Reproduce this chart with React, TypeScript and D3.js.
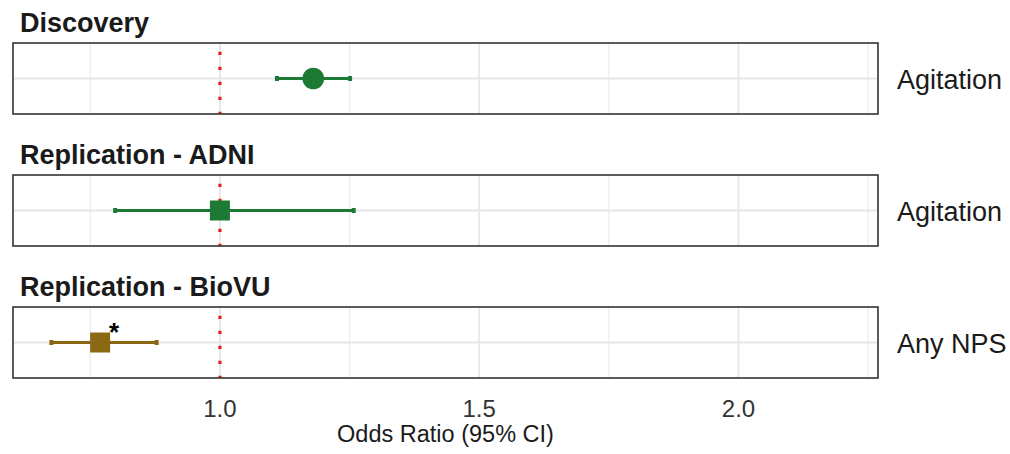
import React from "react";
import * as d3 from "d3";

const panels = ["Discovery", "Replication - ADNI", "Replication - BioVU"];
const outcomes = ["Agitation", "Agitation", "Any NPS"];
const oddsRatio = [1.18, 1.0, 0.769];
const ciLower = [1.11, 0.798, 0.675];
const ciUpper = [1.251, 1.258, 0.878];
const shapes = ["circle", "square", "square"];
const colors = ["#1d7a34", "#1d7a34", "#8b6914"];
const signif = ["", "", "*"];
const majorTicks = [1.0, 1.5, 2.0];
const minorTicks = [0.75, 1.25, 1.75, 2.25];
const tickLabels = ["1.0", "1.5", "2.0"];
const nullValue = 1.0;
const xDomain = [0.601, 2.269];

const W = 1010;
const H = 454;
const left = 13;
const right = 878;
const panelTops = [43, 175, 307];
const panelH = 71;

export default function App() {
  const x = d3.scaleLinear().domain(xDomain).range([left, right]);
  const font = "'Liberation Sans', Arial, sans-serif";
  return (
    <svg width={W} height={H} style={{ position: "absolute", left: 0, top: 0, background: "#fff" }} fontFamily={font}>
      <rect width={W} height={H} fill="#fff" />
      {panels.map((p, i) => {
        const top = panelTops[i];
        const y = d3.scaleBand().domain([outcomes[i]]).range([top, top + panelH]);
        const cy = (y(outcomes[i]) as number) + y.bandwidth() / 2;
        const cx = x(oddsRatio[i]);
        return (
          <g key={p}>
            <text x={20} y={top - 11.5} fontSize={27} fontWeight="bold" fill="#1a1a1a">{p}</text>
            {minorTicks.map((t) => (
              <line key={"mi" + t} x1={x(t)} x2={x(t)} y1={top} y2={top + panelH} stroke="#ebebeb" strokeWidth={1.2} />
            ))}
            {majorTicks.map((t) => (
              <line key={"ma" + t} x1={x(t)} x2={x(t)} y1={top} y2={top + panelH} stroke="#e6e6e6" strokeWidth={1.8} />
            ))}
            <line x1={left} x2={right} y1={cy} y2={cy} stroke="#e6e6e6" strokeWidth={1.8} />
            <line x1={x(nullValue)} x2={x(nullValue)} y1={top + 8.8} y2={top + panelH} stroke="#ea1f1b" strokeWidth={3.2} strokeDasharray="3.2 11.8" />
            <line x1={x(ciLower[i])} x2={x(ciUpper[i])} y1={cy} y2={cy} stroke={colors[i]} strokeWidth={3} />
            <rect x={x(ciLower[i]) - 2} y={cy - 2.5} width={4} height={5} fill={colors[i]} />
            <rect x={x(ciUpper[i]) - 2} y={cy - 2.5} width={4} height={5} fill={colors[i]} />
            {shapes[i] === "circle" ? (
              <circle cx={cx} cy={cy} r={10.8} fill={colors[i]} />
            ) : (
              <rect x={cx - 10} y={cy - 10} width={20} height={20} fill={colors[i]} />
            )}
            {signif[i] && (
              <text x={cx + 14} y={cy - 2} fontSize={26} fontWeight="bold" textAnchor="middle" fill="#000">{signif[i]}</text>
            )}
            <rect x={left} y={top} width={right - left} height={panelH} fill="none" stroke="#333" strokeWidth={1.6} />
            <text x={897} y={cy + 10} fontSize={27} fill="#1a1a1a">{outcomes[i]}</text>
          </g>
        );
      })}
      {majorTicks.map((t, k) => (
        <text key={t} x={x(t)} y={416.5} fontSize={24} textAnchor="middle" fill="#333">{tickLabels[k]}</text>
      ))}
      <text x={(left + right) / 2} y={442} fontSize={23.5} textAnchor="middle" fill="#1a1a1a">Odds Ratio (95% CI)</text>
    </svg>
  );
}
